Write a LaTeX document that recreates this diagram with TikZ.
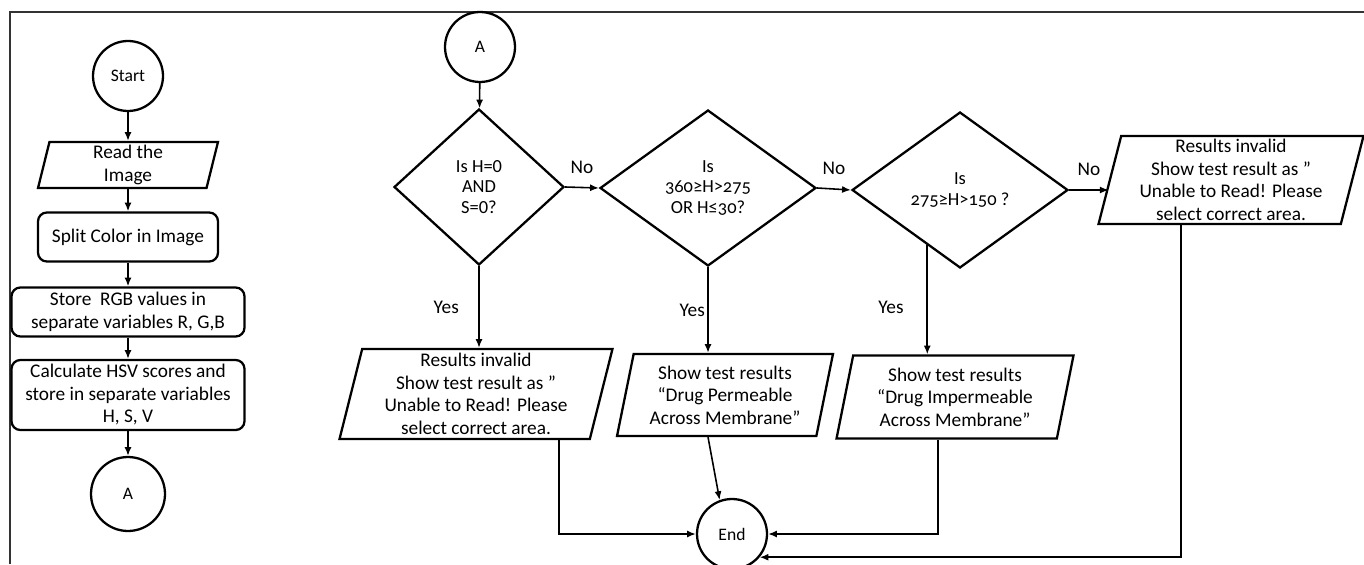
\documentclass[tikz,border=0pt]{standalone}
\usepackage{fontspec}
\setmainfont{Carlito}
\newfontfamily\oldnum[Numbers=OldStyle]{Carlito}
\usetikzlibrary{shapes.geometric, arrows.meta, calc}

\begin{document}
\begin{tikzpicture}[x=0.02cm, y=-0.02cm,
    font=\fontsize{11}{12.8}\selectfont,
    box/.style={draw, line width=1.3pt, rounded corners=5pt, align=center, inner sep=1pt},
    io/.style={draw, line width=1.3pt, trapezium, trapezium left angle=75, trapezium right angle=105,
        trapezium stretches body, align=center, inner sep=1pt},
    term/.style={draw, line width=1.3pt, circle, minimum size=1.4cm, inner sep=0pt, font=\fontsize{10}{11}\selectfont},
    decision/.style={draw, line width=1.3pt, diamond, align=center, inner sep=0pt, font=\oldnum\fontsize{10.5}{11.8}\selectfont},
    arr/.style={-{Latex[length=5pt,width=4pt]}, line width=0.9pt}]
    \useasboundingbox (0,0) rectangle (1364,564);

    % Frame
    \draw[line width=0.8pt, black!80] (10,564) -- (10,12) -- (1364,12);

    % Left column
    \node[term] (start) at (128,76) {Start};
    \node[io, minimum width=3.6cm, minimum height=0.92cm] (read) at (128,165) {Read the\\Image};
    \node[box, minimum width=3.6cm, minimum height=0.98cm] (split) at (128,237) {Split Color in Image};
    \node[box, minimum width=4.66cm, minimum height=0.98cm] (store) at (128,312) {Store\ \ RGB values in\\separate variables R, G,B};
    \node[box, minimum width=4.66cm, minimum height=1.4cm] (hsv) at (128,395) {Calculate HSV scores and\\store in separate variables\\H, S, V};
    \node[term, minimum size=1.48cm] (conn1) at (128,494) {A};

    % Decisions
    \node[term] (conn2) at (480,47) {A};
    \node[decision, minimum width=3.4cm, minimum height=3.12cm, font=\rmfamily\fontsize{10.5}{11.8}\selectfont] (d1) at (479,187) {Is H=0\\AND\\S=0?};
    \node[decision, minimum width=4.32cm, minimum height=3.12cm] (d2) at (708,188) {Is\\360≥H>275\\OR H≤30?};
    \node[decision, minimum width=4.32cm, minimum height=3.12cm] (d3) at (960,190) {Is\\275≥H>150 ?};

    % Results
    \node[io, minimum width=5.3cm, minimum height=1.76cm] (p4) at (1231,180) {Results invalid\\Show test result as ”\\Unable to Read! Please\\select correct area.};
    \node[io, minimum width=5.46cm, minimum height=1.8cm] (p1) at (476,394) {Results invalid\\Show test result as ”\\Unable to Read! Please\\select correct area.};
    \node[io, minimum width=4.32cm, minimum height=1.64cm] (p2) at (725,395) {Show test results\\“Drug Permeable\\Across Membrane”};
    \node[io, minimum width=4.74cm, minimum height=1.66cm] (p3) at (955,397) {Show test results\\“Drug Impermeable\\Across Membrane”};
    \node[term] (end) at (732,534) {End};

    % Main flow
    \draw[arr] (start) -- (read);
    \draw[arr] (read) -- (split);
    \draw[arr] (split) -- (store);
    \draw[arr] (store) -- (hsv);
    \draw[arr] (hsv) -- (conn1);
    \draw[arr] (conn2) -- (d1);

    % No branches
    \draw[arr] (d1.east) -- node[above=0.15cm]{No} (d2.west);
    \draw[arr] (d2.east) -- node[above=0.15cm]{No} (d3.west);
    \draw[arr] (d3.east) -- node[above=0.15cm]{No} (d3.east -| p4.west);

    % Yes branches
    \coordinate (d3out) at ($(d3.south)!0.3!(d3.west)$);
    \draw[arr] (d1.south) -- node[left=0.27cm]{Yes} (d1.south |- p1.north);
    \draw[arr] (d2.south) -- node[left=-2pt]{Yes} (d2.south |- p2.north);
    \draw[arr] (d3out) -- node[pos=0.57, left=0.34cm]{Yes} (d3out |- p3.north);

    % To end
    \draw[arr] ($(p1.south)+(83,0)$) |- (end.west);
    \draw[arr] ($(p2.south)+(-17,0)$) -- (end.110);
    \draw[arr] ($(p3.south)+(-17,0)$) |- (end.east);
    \draw[arr] ($(p4.south)+(-50,0)$) |- (end.-40);
\end{tikzpicture}
\end{document}
